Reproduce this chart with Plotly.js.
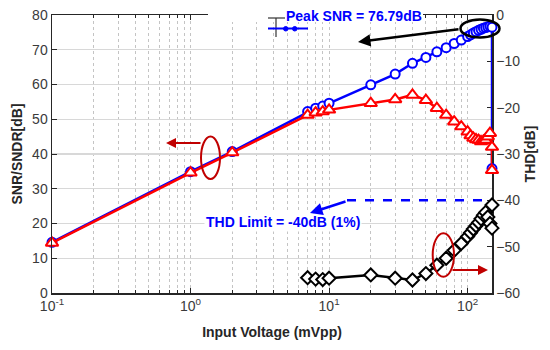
<!DOCTYPE html>
<html>
<head>
<meta charset="utf-8">
<script src="https://cdn.plot.ly/plotly-3.0.1.min.js"></script>
<style>html,body{margin:0;padding:0;background:#fff;}#chart{width:550px;height:350px;}</style>
</head>
<body>
<div id="chart"></div>
<script>
// ---- data ----
const inputV = [0.1, 1, 2, 7, 8, 9, 10, 20, 30, 40, 50, 60, 70, 80, 90, 100, 105, 110, 115, 120, 125, 130, 135, 140, 145, 150, 150];
const snr    = [14.6, 34.9, 40.7, 52.2, 53.2, 53.8, 54.6, 59.9, 63.0, 66.1, 67.8, 69.4, 70.6, 71.8, 72.8, 73.8, 74.3, 74.8, 75.2, 75.6, 75.9, 76.2, 76.4, 76.6, 76.79, 76.5, 35.8];
const sndr   = [14.4, 34.6, 40.4, 51.2, 51.9, 52.2, 52.7, 54.6, 55.7, 57.0, 55.5, 53.2, 51.2, 49.3, 47.9, 46.4, 45.3, 44.6, 44.2, 44.0, 43.6, 43.8, 44.0, 45.0, 46.0, 42.0, 35.3];
const thdV   = [7, 8, 9, 10, 20, 30, 40, 50, 60, 70, 80, 90, 100, 105, 110, 115, 120, 125, 130, 135, 140, 145, 150, 150];
const thd    = [-56.7, -57.0, -57.1, -56.8, -56.1, -56.8, -57.2, -55.8, -54.0, -52.5, -50.8, -49.3, -47.8, -47.0, -46.2, -45.5, -44.8, -44.0, -43.2, -42.6, -43.6, -45.0, -46.0, -41.0];
const xTickVals = [0.1, 1, 10, 100];
const xTickText = ['10<sup>-1</sup>', '10<sup>0</sup>', '10<sup>1</sup>', '10<sup>2</sup>'];
const thdLimit = -40;

// minor ticks for the log axis
const minorVals = [];
for (let e = -1; e <= 2; e++) for (let m = 2; m <= 9; m++) { const v = m * Math.pow(10, e); if (v <= 150) minorVals.push(v); }

const FONT = 'Arial, "Liberation Sans", sans-serif';
const BLUE = '#0000ff', RED = '#ff0000', DRED = '#c00000';

const traces = [
  { x: inputV, y: snr, type: 'scatter', mode: 'lines+markers', name: 'SNR', cliponaxis: false,
    line: { color: BLUE, width: 2.5 },
    marker: { symbol: 'circle', size: 9, color: 'white', line: { color: BLUE, width: 2 } } },
  { x: inputV, y: sndr, type: 'scatter', mode: 'lines+markers', name: 'SNDR', cliponaxis: false,
    line: { color: RED, width: 2.5 },
    marker: { symbol: 'triangle-up', size: 11, color: 'white', line: { color: RED, width: 2 } } },
  { x: thdV, y: thd, type: 'scatter', mode: 'lines+markers', name: 'THD', yaxis: 'y2', cliponaxis: false,
    line: { color: 'black', width: 2.5 },
    marker: { symbol: 'diamond', size: 10, color: 'white', line: { color: 'black', width: 2 } } }
];

// helpers: convert reference pixel positions to paper coords
const L = 52, R = 492, T = 15, B = 293;
const px = v => (v - L) / (R - L);
const py = v => (B - v) / (B - T);

const shapes = [
  // white patches hiding the grid (as in the reference composite)
  { type: 'rect', layer: 'between', xref: 'paper', yref: 'paper', x0: px(207), x1: px(343), y0: py(97), y1: 1, fillcolor: 'white', line: { width: 0 } },
  { type: 'rect', layer: 'between', xref: 'paper', yref: 'paper', x0: px(343), x1: px(390), y0: py(48), y1: 1, fillcolor: 'white', line: { width: 0 } },
  // hide the top border / ticks between the two segments
  { type: 'rect', layer: 'above', xref: 'paper', yref: 'paper', x0: px(208), x1: px(423), y0: py(22), y1: py(6), fillcolor: 'white', line: { width: 0 } },
  // legend-like symbol next to "Peak SNR"
  { type: 'line', layer: 'above', xref: 'paper', yref: 'paper', x0: px(268), x1: px(285), y0: py(18), y1: py(18), line: { color: '#333', width: 1.2 } },
  { type: 'line', layer: 'above', xref: 'paper', yref: 'paper', x0: px(276), x1: px(276), y0: py(18), y1: py(37), line: { color: '#333', width: 1.2 } },
  { type: 'line', layer: 'above', xref: 'paper', yref: 'paper', x0: px(268), x1: px(308), y0: py(28.5), y1: py(28.5), line: { color: BLUE, width: 1.8 } },
  { type: 'circle', layer: 'above', xref: 'paper', yref: 'paper', x0: px(283.5), x1: px(288), y0: py(31), y1: py(26.5), fillcolor: BLUE, line: { color: BLUE, width: 1 } },
  { type: 'circle', layer: 'above', xref: 'paper', yref: 'paper', x0: px(292.5), x1: px(297), y0: py(31), y1: py(26.5), fillcolor: BLUE, line: { color: BLUE, width: 1 } },
  // THD limit dashed line
  { type: 'line', xref: 'paper', yref: 'y2', x0: px(347), x1: px(491), y0: thdLimit, y1: thdLimit, line: { color: BLUE, width: 2.5, dash: 'dash' } },
  // ellipses
  { type: 'circle', layer: 'above', xref: 'paper', yref: 'paper', x0: px(201), x1: px(220), y0: py(179), y1: py(136.5), line: { color: DRED, width: 2 } },
  { type: 'circle', layer: 'above', xref: 'paper', yref: 'paper', x0: px(432.7), x1: px(454), y0: py(276.7), y1: py(233.3), line: { color: DRED, width: 2 } },
  { type: 'circle', layer: 'above', xref: 'paper', yref: 'paper', x0: px(460.5), x1: px(499.5), y0: py(37.5), y1: py(19.5), line: { color: 'black', width: 2.5 } }
];

const annotations = [
  { xref: 'paper', yref: 'paper', x: px(354), y: py(16), text: '<b>Peak SNR = 76.79dB</b>', showarrow: false,
    font: { family: FONT, size: 14, color: BLUE }, xanchor: 'center', yanchor: 'middle' },
  { xref: 'paper', yref: 'paper', x: px(358), y: py(42), ax: 102, ay: -13, text: '', showarrow: true,
    arrowhead: 2, arrowsize: 1, arrowwidth: 2.5, arrowcolor: 'black' },
  { xref: 'paper', yref: 'paper', x: px(283), y: py(222), text: '<b>THD Limit = -40dB (1%)</b>', showarrow: false,
    font: { family: FONT, size: 14, color: BLUE }, bgcolor: 'white', xanchor: 'center', yanchor: 'middle' },
  { xref: 'paper', yref: 'paper', x: px(310), y: py(213), ax: 37, ay: -12, text: '', showarrow: true,
    arrowhead: 2, arrowsize: 1, arrowwidth: 2.5, arrowcolor: BLUE },
  { xref: 'paper', yref: 'paper', x: px(166), y: py(143), ax: 36, ay: 0, text: '', showarrow: true,
    arrowhead: 2, arrowsize: 1, arrowwidth: 2, arrowcolor: DRED },
  { xref: 'paper', yref: 'paper', x: px(488), y: py(270), ax: -37, ay: 0, text: '', showarrow: true,
    arrowhead: 2, arrowsize: 1, arrowwidth: 2, arrowcolor: DRED }
];

const tickFont = { family: FONT, size: 14, color: '#3a3a3a' };
const titleFont = { family: FONT, size: 14, color: '#262626' };

const layout = {
  width: 550, height: 350,
  margin: { l: L, r: 550 - R, t: T, b: 350 - B, pad: 0 },
  paper_bgcolor: 'white', plot_bgcolor: 'white',
  showlegend: false,
  xaxis: {
    type: 'log', range: [Math.log10(0.1), Math.log10(150)],
    tickmode: 'array', tickvals: xTickVals, ticktext: xTickText,
    ticks: 'inside', ticklen: 5, tickcolor: '#262626', tickwidth: 1,
    showline: true, linecolor: '#262626', linewidth: 1.5, mirror: 'ticks',
    showgrid: true, gridcolor: '#c4c4c4', griddash: 'dot', gridwidth: 1,
    minor: { tickmode: 'array', tickvals: minorVals, ticks: 'inside', ticklen: 3, tickcolor: '#262626',
             showgrid: true, gridcolor: '#c4c4c4', griddash: 'dot', gridwidth: 1 },
    zeroline: false, tickfont: tickFont,
    title: { text: '<b>Input Voltage (mVpp)</b>', font: titleFont, standoff: 14 }
  },
  yaxis: {
    range: [0, 80], dtick: 10, tick0: 0,
    ticks: 'inside', ticklen: 5, tickcolor: '#262626',
    showline: true, linecolor: '#262626', linewidth: 1.5,
    showgrid: true, gridcolor: '#d8d8d8', gridwidth: 1.3, zeroline: false,
    tickfont: tickFont,
    title: { text: '<b>SNR/SNDR[dB]</b>', font: titleFont, standoff: 6 }
  },
  yaxis2: {
    overlaying: 'y', side: 'right', range: [-60, 0], dtick: 10, tick0: 0,
    ticks: 'inside', ticklen: 5, tickcolor: '#262626',
    showline: true, linecolor: '#262626', linewidth: 1.5, layer: 'below traces',
    showgrid: false, zeroline: false, tickfont: tickFont,
    title: { text: '<b>THD[dB]</b>', font: titleFont, standoff: 6 }
  },
  shapes: shapes,
  annotations: annotations
};

Plotly.newPlot('chart', traces, layout, { staticPlot: true, displayModeBar: false });
</script>
</body>
</html>
